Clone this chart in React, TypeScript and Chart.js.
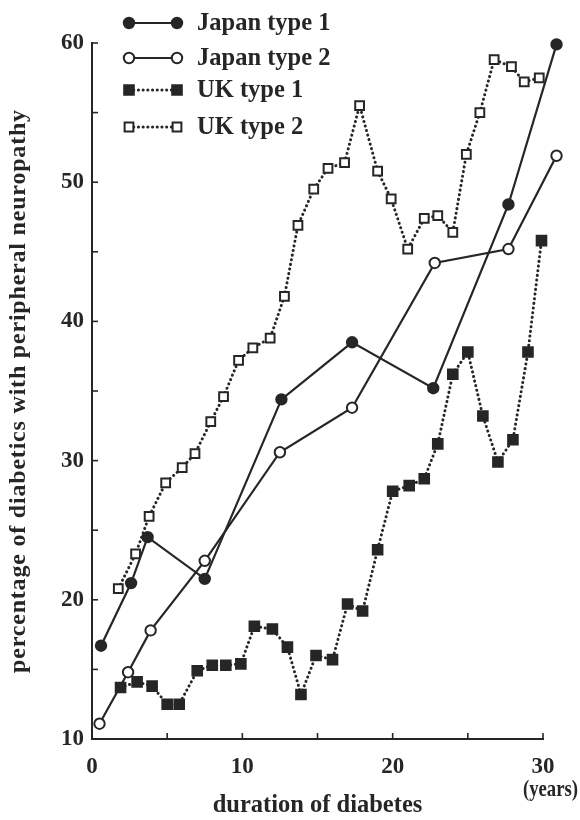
import React, { useEffect, useRef } from 'react';
import { Chart, registerables } from 'chart.js';

Chart.register(...registerables);

// ---- data ----
const seriesNames = ['Japan type 1', 'Japan type 2', 'UK type 1', 'UK type 2'];

const japanType1X = [0.6, 2.6, 3.7, 7.5, 12.6, 17.3, 22.7, 27.7, 30.9];
const japanType1Y = [16.7, 21.2, 24.5, 21.5, 34.4, 38.5, 35.2, 48.4, 59.9];

const japanType2X = [0.5, 2.4, 3.9, 7.5, 12.5, 17.3, 22.8, 27.7, 30.9];
const japanType2Y = [11.1, 14.8, 17.8, 22.8, 30.6, 33.8, 44.2, 45.2, 51.9];

const ukType1X = [1.9, 3.0, 4.0, 5.0, 5.8, 7.0, 8.0, 8.9, 9.9, 10.8, 12.0, 13.0, 13.9, 14.9, 16.0, 17.0, 18.0, 19.0, 20.0, 21.1, 22.1, 23.0, 24.0, 25.0, 26.0, 27.0, 28.0, 29.0, 29.9];
const ukType1Y = [13.7, 14.1, 13.8, 12.5, 12.5, 14.9, 15.3, 15.3, 15.4, 18.1, 17.9, 16.6, 13.2, 16.0, 15.7, 19.7, 19.2, 23.6, 27.8, 28.2, 28.7, 31.2, 36.2, 37.8, 33.2, 29.9, 31.5, 37.8, 45.8];

const ukType2X = [1.75, 2.9, 3.8, 4.9, 6.0, 6.85, 7.9, 8.75, 9.75, 10.7, 11.85, 12.8, 13.7, 14.75, 15.7, 16.8, 17.8, 19.0, 19.9, 21.0, 22.1, 23.0, 24.0, 24.9, 25.8, 26.75, 27.9, 28.75, 29.75];
const ukType2Y = [20.8, 23.3, 26.0, 28.4, 29.5, 30.5, 32.8, 34.6, 37.2, 38.1, 38.8, 41.8, 46.9, 49.5, 51.0, 51.4, 55.5, 50.8, 48.8, 45.2, 47.4, 47.6, 46.4, 52.0, 55.0, 58.8, 58.3, 57.2, 57.5];

const xTickLabels = ['0', '10', '20', '30'];
const yTickLabels = ['10', '20', '30', '40', '50', '60'];
const xAxisTitle = 'duration of diabetes';
const xUnitLabel = '(years)';
const yAxisTitle = 'percentage of diabetics with peripheral neuropathy';

// ---- styles ----
const INK = '#262626';
const FONT = '"Liberation Serif", "Times New Roman", serif';
const TICK_SIZE = 23;
const TEXT_SIZE = 24.5;

const pts = (xs: number[], ys: number[]) => xs.map((x, i) => ({ x, y: ys[i] }));

function drawMarker(ctx: CanvasRenderingContext2D, style: string, filled: boolean, x: number, y: number, r: number) {
  ctx.beginPath();
  if (style === 'circle') {
    ctx.arc(x, y, r, 0, Math.PI * 2);
  } else {
    const s = Math.SQRT1_2 * r;
    ctx.rect(x - s, y - s, 2 * s, 2 * s);
  }
  ctx.fillStyle = filled ? INK : '#ffffff';
  ctx.fill();
  ctx.lineWidth = 2;
  ctx.strokeStyle = INK;
  ctx.stroke();
}

const innerTicksPlugin = {
  id: 'innerTicks',
  beforeDatasetsDraw(chart: any) {
    const { ctx, chartArea, scales } = chart;
    ctx.save();
    ctx.strokeStyle = INK;
    ctx.lineWidth = 1.6;
    scales.y.ticks.forEach((t: any) => {
      const py = scales.y.getPixelForValue(t.value);
      ctx.beginPath();
      ctx.moveTo(chartArea.left, py);
      ctx.lineTo(chartArea.left + 6, py);
      ctx.stroke();
    });
    scales.x.ticks.forEach((t: any) => {
      const px = scales.x.getPixelForValue(t.value);
      ctx.beginPath();
      ctx.moveTo(px, chartArea.bottom);
      ctx.lineTo(px, chartArea.bottom - 6);
      ctx.stroke();
    });
    ctx.restore();
  },
};

// Chart.js skips point markers lying outside the chart area; the reference
// shows the last Japan points just past the 30-year end of the axis.
const outsidePointsPlugin = {
  id: 'outsidePoints',
  afterDatasetsDraw(chart: any) {
    const { ctx, chartArea } = chart;
    ctx.save();
    chart.data.datasets.forEach((ds: any, i: number) => {
      const meta = chart.getDatasetMeta(i);
      meta.data.forEach((el: any) => {
        if (el.x > chartArea.right + 0.5 || el.y < chartArea.top - 0.5) {
          drawMarker(ctx, ds.pointStyle, ds.pointBackgroundColor !== '#ffffff', el.x, el.y, ds.pointRadius);
        }
      });
    });
    ctx.restore();
  },
};

const textPlugin = {
  id: 'textExtras',
  afterDraw(chart: any) {
    const { ctx, scales, chartArea } = chart;
    ctx.save();
    // legend inside the top-left corner
    const rowY = [23, 58, 90, 127];
    chart.data.datasets.forEach((ds: any, i: number) => {
      const y = rowY[i];
      const x0 = 129;
      const x1 = 177;
      ctx.beginPath();
      ctx.strokeStyle = INK;
      ctx.lineWidth = ds.borderWidth;
      ctx.lineCap = ds.borderDash && ds.borderDash.length ? 'round' : 'butt';
      ctx.setLineDash(ds.borderDash || []);
      ctx.moveTo(x0, y);
      ctx.lineTo(x1, y);
      ctx.stroke();
      ctx.setLineDash([]);
      const filled = ds.pointBackgroundColor !== '#ffffff';
      drawMarker(ctx, ds.pointStyle, filled, x0, y, ds.pointRadius);
      drawMarker(ctx, ds.pointStyle, filled, x1, y, ds.pointRadius);
      ctx.fillStyle = INK;
      ctx.font = `bold ${TEXT_SIZE}px ${FONT}`;
      ctx.textAlign = 'left';
      ctx.textBaseline = 'middle';
      ctx.fillText(ds.label, 197, y + 1);
    });
    // unit under the last x tick label (condensed like the original)
    ctx.font = `bold ${TICK_SIZE}px ${FONT}`;
    ctx.textAlign = 'left';
    ctx.textBaseline = 'middle';
    ctx.fillStyle = INK;
    ctx.fillText(xUnitLabel, scales.x.getPixelForValue(30) - 20, chartArea.bottom + 51, 55);
    // rotated y-axis title (slightly letter-spaced like the original typesetting)
    ctx.translate(19, (chartArea.top + chartArea.bottom) / 2);
    ctx.rotate(-Math.PI / 2);
    ctx.font = `bold 24px ${FONT}`;
    (ctx as any).letterSpacing = '0.8px';
    ctx.textAlign = 'center';
    ctx.fillText(yAxisTitle, 0, 0);
    ctx.restore();
  },
};

export default function App() {
  const ref = useRef<HTMLCanvasElement | null>(null);

  useEffect(() => {
    if (!ref.current) return;
    const solid = { borderColor: INK, borderWidth: 2.2, pointBorderColor: INK, pointBorderWidth: 2, clip: false as const, tension: 0 };
    const dotted = { ...solid, borderWidth: 3, borderDash: [0.1, 4.6], borderCapStyle: 'round' as const };
    const chart = new Chart(ref.current, {
      type: 'line',
      data: {
        datasets: [
          { ...solid, label: seriesNames[0], data: pts(japanType1X, japanType1Y), pointStyle: 'circle', pointRadius: 5.2, pointBackgroundColor: INK },
          { ...solid, label: seriesNames[1], data: pts(japanType2X, japanType2Y), pointStyle: 'circle', pointRadius: 5.2, pointBackgroundColor: '#ffffff' },
          { ...dotted, label: seriesNames[2], data: pts(ukType1X, ukType1Y), pointStyle: 'rect', pointRadius: 6.8, pointBackgroundColor: INK },
          { ...dotted, label: seriesNames[3], data: pts(ukType2X, ukType2Y), pointStyle: 'rect', pointRadius: 6.2, pointBackgroundColor: '#ffffff' },
        ] as any,
      },
      options: {
        animation: false,
        responsive: false,
        devicePixelRatio: 1,
        layout: { padding: { left: 0, top: 43, right: 37, bottom: 0 } },
        plugins: { legend: { display: false }, tooltip: { enabled: false } },
        scales: {
          x: {
            type: 'linear',
            min: 0,
            max: 30,
            grid: { display: false, drawTicks: false },
            border: { display: true, color: INK, width: 2 },
            ticks: {
              stepSize: 5,
              autoSkip: false,
              maxRotation: 0,
              padding: 14,
              color: INK,
              font: { family: FONT, size: TICK_SIZE, weight: 'bold' },
              callback: (v: any) => (xTickLabels.includes(String(v)) ? String(v) : ''),
            },
            title: {
              display: true,
              text: xAxisTitle,
              color: INK,
              font: { family: FONT, size: TEXT_SIZE, weight: 'bold' },
              padding: { top: 0, bottom: 0 },
            },
            afterFit: (s: any) => {
              s.height = 81;
              s.paddingLeft = 0;
              s.paddingRight = 0;
            },
          },
          y: {
            type: 'linear',
            min: 10,
            max: 60,
            grid: { display: false, drawTicks: false },
            border: { display: true, color: INK, width: 2 },
            ticks: {
              stepSize: 5,
              autoSkip: false,
              padding: 8,
              color: INK,
              font: { family: FONT, size: TICK_SIZE, weight: 'bold' },
              callback: (v: any) => (yTickLabels.includes(String(v)) ? String(v) : ''),
            },
            title: { display: false },
            afterFit: (s: any) => {
              s.width = 92;
              s.paddingTop = 0;
              s.paddingBottom = 0;
            },
          },
        },
      },
      plugins: [innerTicksPlugin, outsidePointsPlugin, textPlugin],
    });
    return () => chart.destroy();
  }, []);

  return (
    <div style={{ position: 'fixed', left: 0, top: 0, width: 580, height: 820, background: '#ffffff' }}>
      <canvas ref={ref} width={580} height={820} style={{ display: 'block' }} />
    </div>
  );
}
